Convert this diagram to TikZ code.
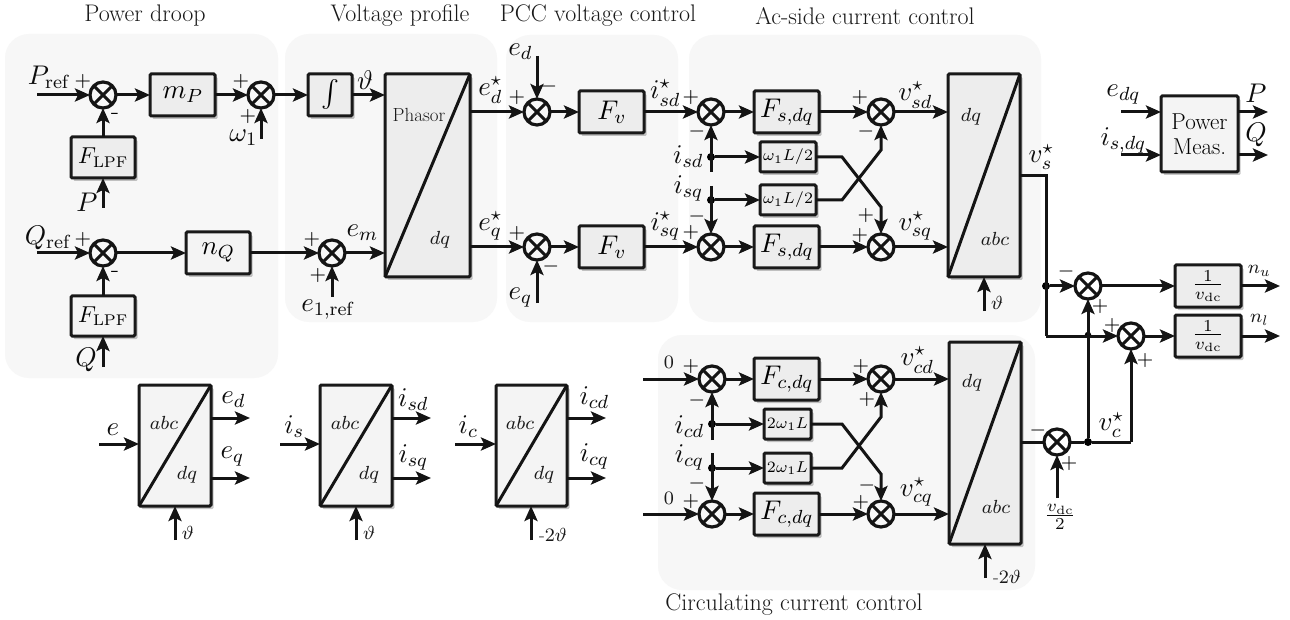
\documentclass[tikz,border=0pt]{standalone}
\DeclareFontShape{OML}{cmm}{m}{it}{<-13>cmmi5 <13-18>cmmi7 <18-22>cmmi8 <22->cmmi10}{}
\DeclareFontShape{OT1}{cmr}{m}{n}{<-13>cmr5 <13-18>cmr7 <18-22>cmr8 <22->cmr10}{}
\DeclareFontShape{OMS}{cmsy}{m}{n}{<-13>cmsy5 <13-18>cmsy7 <18-22>cmsy8 <22->cmsy10}{}
\DeclareFontShape{OMX}{cmex}{m}{n}{<->cmex10}{}
\DeclareMathSizes{27}{27}{19}{13.5}
\DeclareMathSizes{24}{24}{16.8}{12}
\DeclareMathSizes{23}{23}{15.5}{11}
\DeclareMathSizes{19}{19}{14}{11}
\DeclareMathSizes{20}{20}{14}{11}
\DeclareMathSizes{15.8}{15.8}{11.5}{9}
\usetikzlibrary{arrows.meta,shadows}
\tikzset{
  x=1pt,y=-1pt,
  bgpanel/.style={fill=panelgray,rounded corners=24pt},
  blk/.style={draw=black!90,line width=3pt,rounded corners=1.2pt,outer sep=0pt,inner sep=0pt,
     drop shadow={shadow xshift=2.5pt,shadow yshift=-3pt,fill=black,opacity=.22}},
  blkdark/.style={blk,fill=darkfill},
  blklight/.style={blk,fill=lightfill},
  wire/.style={draw=black!92,line width=3pt},
  arr/.style={wire,-{Stealth[length=15pt,width=13pt,inset=3pt]}},
  summ/.style={circle,draw=black!92,line width=3.2pt,minimum size=26pt,inner sep=0pt,outer sep=0pt,
     path picture={
       \draw[line width=3pt] ([shift={(45:13)}]path picture bounding box.center) -- ([shift={(225:13)}]path picture bounding box.center);
       \draw[line width=3pt] ([shift={(135:13)}]path picture bounding box.center) -- ([shift={(315:13)}]path picture bounding box.center);}},
  dotn/.style={circle,fill=black,inner sep=0pt,minimum size=8pt},
  hopn/.style={circle,fill=black,inner sep=0pt,minimum size=6.5pt},
  txt/.style={inner sep=0pt,font=\fontsize{27}{30}\selectfont,text=black!95},
  sgn/.style={inner sep=0pt,font=\fontsize{20}{24}\selectfont,text=black},
  ttl/.style={inner sep=0pt,font=\fontsize{24}{28}\selectfont,text=black!90},
  small/.style={inner sep=0pt,font=\fontsize{19}{22}\selectfont,text=black!90},
  blab/.style={font=\fontsize{27}{30}\selectfont},
  flab/.style={font=\fontsize{24}{28}\selectfont},
  llab/.style={font=\fontsize{23}{26}\selectfont},
  wlab/.style={font=\fontsize{15.8}{20}\selectfont},
}
\definecolor{panelgray}{HTML}{F7F7F7}
\definecolor{darkfill}{HTML}{EDEDED}
\definecolor{lightfill}{HTML}{F4F4F4}
\newcommand\bx[7]{\node[#6,minimum width={#4-#2},minimum height={#5-#3}] (#1) at ({(#2+#4)/2},{(#3+#5)/2}) {#7};}
\newcommand\lab[3]{\node[txt] (#1) at (#2) {#3};}
\newcommand\sg[3]{\node[sgn] (#1) at (#2) {#3};}
\newcommand\smalllab[3]{\node[small] (#1) at (#2) {#3};}
\begin{document}
\begin{tikzpicture}
\useasboundingbox (0,0) rectangle (1290,620);
\fill[white] (0,0) rectangle (1290,620);
% panels
\fill[bgpanel] (5,34) rectangle (278,378);
\fill[bgpanel] (285,34) rectangle (497,322);
\fill[bgpanel] (506,35) rectangle (678,322);
\fill[bgpanel] (689,35) rectangle (1041,322);
\fill[bgpanel] (658,335) rectangle (1035,590);
% titles
\node[ttl] (t1) at (145,16) {Power droop};
\node[ttl] (t2) at (400,16) {Voltage profile};
\node[ttl] (t3) at (598,16) {PCC voltage control};
\node[ttl] (t4) at (865,16) {Ac-side current control};
\node[ttl] (t5) at (794,605) {Circulating current control};
% blocks: power droop / voltage profile
\bx{mP}{150}{74}{215}{116}{blkdark,blab}{$m_P$}
\bx{Int}{308}{74}{352}{116}{blkdark,blab}{$\int$}
\bx{Fl1}{71}{137}{135}{178}{blkdark,llab}{$F_{\mathrm{LPF}}$}
\bx{Fl2}{71}{296}{135}{336}{blklight,llab}{$F_{\mathrm{LPF}}$}
\bx{nQ}{186}{232}{250}{274}{blklight,blab}{$n_Q$}
\bx{Ph}{385}{74}{470}{277}{blkdark}{}
\draw[wire] (Ph.north east) -- (Ph.south west);
\smalllab{phT}{419,115}{Phasor}
\smalllab{phB}{440,240}{$dq$}
% PCC and ac-side
\bx{Fv1}{579}{91}{644}{133}{blkdark,blab}{$F_v$}
\bx{Fv2}{579}{226}{644}{268}{blkdark,blab}{$F_v$}
\bx{Fs1}{754}{91}{819}{133}{blkdark,blab}{$F_{s,dq}$}
\bx{Fs2}{754}{226}{819}{268}{blkdark,blab}{$F_{s,dq}$}
\bx{wL1}{760}{142}{816}{172}{blkdark,wlab}{$\omega_1L/2$}
\bx{wL2}{760}{185}{816}{215}{blkdark,wlab}{$\omega_1L/2$}
\bx{Ac}{948}{74}{1020}{277}{blkdark}{}
\draw[wire] (Ac.north east) -- (Ac.south west);
\smalllab{acT}{971,117}{$dq$}
\smalllab{acB}{995,239}{$abc$}
% circulating
\bx{Fc1}{754}{358}{819}{400}{blkdark,blab}{$F_{c,dq}$}
\bx{Fc2}{754}{493}{819}{535}{blkdark,blab}{$F_{c,dq}$}
\bx{wC1}{764}{409}{811}{439}{blkdark,wlab}{$2\omega_1L$}
\bx{wC2}{764}{453}{811}{483}{blkdark,wlab}{$2\omega_1L$}
\bx{Cc}{949}{342}{1021}{544}{blkdark}{}
\draw[wire] (Cc.north east) -- (Cc.south west);
\smalllab{ccT}{972,383}{$dq$}
\smalllab{ccB}{996,507}{$abc$}
% output blocks
\bx{PM}{1161}{96}{1238}{172}{blklight}{\parbox{70pt}{\centering\fontsize{23}{25}\selectfont Power\\Meas.}}
\bx{Vu}{1175}{265}{1241}{307}{blkdark,flab}{$\frac{1}{v_{\mathrm{dc}}}$}
\bx{Vl}{1175}{315}{1241}{357}{blkdark,flab}{$\frac{1}{v_{\mathrm{dc}}}$}
% transforms
\bx{Ta}{139}{385}{211}{506}{blklight}{}
\bx{Tb}{320}{385}{392}{506}{blklight}{}
\bx{Tc}{496}{385}{567}{506}{blklight}{}
\draw[wire] (Ta.north east) -- (Ta.south west);
\draw[wire] (Tb.north east) -- (Tb.south west);
\draw[wire] (Tc.north east) -- (Tc.south west);
\smalllab{taT}{164,423}{$abc$}
\smalllab{taB}{187,475}{$dq$}
\smalllab{tbT}{345,423}{$abc$}
\smalllab{tbB}{369,475}{$dq$}
\smalllab{tcT}{520,423}{$abc$}
\smalllab{tcB}{544,475}{$dq$}
% sums
\node[summ] (S1) at (103,95) {};
\node[summ] (S2) at (261,95) {};
\node[summ] (S3) at (103,253) {};
\node[summ] (S4) at (332,253) {};
\node[summ] (S5) at (537,112) {};
\node[summ] (S6) at (537,247) {};
\node[summ] (S7) at (711,112) {};
\node[summ] (S8) at (711,247) {};
\node[summ] (S9) at (881,112) {};
\node[summ] (S10) at (881,247) {};
\node[summ] (S11) at (712,379) {};
\node[summ] (S12) at (712,514) {};
\node[summ] (S13) at (881,379) {};
\node[summ] (S14) at (881,514) {};
\node[summ] (S15) at (1057,442) {};
\node[summ] (Su) at (1088,286) {};
\node[summ] (Sl) at (1131,336) {};
% free ends
\coordinate (pP) at (37,95);
\coordinate (pQ) at (37,253);
\coordinate (pW) at (261,139);
\coordinate (pF1) at (103,208);
\coordinate (pF2) at (103,367);
\coordinate (pE1) at (332,297);
\coordinate (pEd) at (537,56);
\coordinate (pEq) at (537,303);
\coordinate (pI1) at (711,172);
\coordinate (pI2) at (711,186);
\coordinate (pTh) at (984,311);
\coordinate (pZ1) at (643,379);
\coordinate (pZ2) at (643,514);
\coordinate (pI3) at (712,440);
\coordinate (pI4) at (712,453);
\coordinate (pTc) at (985,578);
\coordinate (pVd) at (1057,498);
\coordinate (pEdq) at (1121,112);
\coordinate (pIdq) at (1121,155);
\coordinate (oP) at (1268,112);
\coordinate (oQ) at (1268,155);
\coordinate (oNu) at (1280,286);
\coordinate (oNl) at (1280,336);
\coordinate (k1) at (842,157);
\coordinate (k2) at (881,207);
\coordinate (k3) at (842,200);
\coordinate (k4) at (881,150);
\coordinate (k5) at (842,424);
\coordinate (k6) at (881,474);
\coordinate (k7) at (842,468);
\coordinate (k8) at (881,417);
\coordinate (vs1) at (1046,176);
\coordinate (vs2) at (1046,336);
\coordinate (vc1) at (1131,442);
\node[dotn] (J1) at (711,157) {};
\node[dotn] (J2) at (711,200) {};
\node[dotn] (J3) at (712,424) {};
\node[dotn] (J4) at (712,468) {};
\node[dotn] (J5) at (1046,286) {};
\node[dotn] (J6) at (1088,442) {};
\node[hopn] (J7) at (1088,335) {};
% transforms inputs/outputs
\coordinate (taI) at (99,444);
\coordinate (tbI) at (280,444);
\coordinate (tcI) at (455,444);
\coordinate (taO1) at (250,418);
\coordinate (taO2) at (250,478);
\coordinate (tbO1) at (431,418);
\coordinate (tbO2) at (431,478);
\coordinate (tcO1) at (606,418);
\coordinate (tcO2) at (606,478);
\coordinate (taV) at (175,540);
\coordinate (tbV) at (356,540);
\coordinate (tcV) at (531,540);
% connectors
\draw[arr] (pP) -- (S1);
\draw[arr] (S1) -- (mP);
\draw[arr] (mP) -- (S2);
\draw[arr] (S2) -- (Int);
\draw[arr] (Int.east) -- (Int.east -| Ph.west);
\draw[arr] (pW) -- (S2);
\draw[arr] (Fl1) -- (S1);
\draw[arr] (pF1) -- (Fl1);
\draw[arr] (pQ) -- (S3);
\draw[arr] (S3) -- (nQ);
\draw[arr] (nQ) -- (S4);
\draw[arr] (S4) -- (S4 -| Ph.west);
\draw[arr] (pE1) -- (S4);
\draw[arr] (Fl2) -- (S3);
\draw[arr] (pF2) -- (Fl2);
\draw[arr] (S5 -| Ph.east) -- (S5);
\draw[arr] (S6 -| Ph.east) -- (S6);
\draw[arr] (pEd) -- (S5);
\draw[arr] (pEq) -- (S6);
\draw[arr] (S5) -- (Fv1);
\draw[arr] (S6) -- (Fv2);
\draw[arr] (Fv1) -- (S7);
\draw[arr] (Fv2) -- (S8);
\draw[arr] (S7) -- (Fs1);
\draw[arr] (S8) -- (Fs2);
\draw[arr] (Fs1) -- (S9);
\draw[arr] (Fs2) -- (S10);
\draw[arr] (S9) -- (S9 -| Ac.west);
\draw[arr] (S10) -- (S10 -| Ac.west);
\draw[arr] (pI1) -- (S7);
\draw[arr] (pI2) -- (S8);
\draw[arr] (J1) -- (wL1);
\draw[arr] (J2) -- (wL2);
\draw[arr] (wL1) -- (k1) -- (k2) -- (S10);
\draw[arr] (wL2) -- (k3) -- (k4) -- (S9);
\draw[arr] (pTh) -- (pTh |- Ac.south);
\draw[arr] (pZ1) -- (S11);
\draw[arr] (pZ2) -- (S12);
\draw[arr] (S11) -- (Fc1);
\draw[arr] (S12) -- (Fc2);
\draw[arr] (Fc1) -- (S13);
\draw[arr] (Fc2) -- (S14);
\draw[arr] (S13) -- (S13 -| Cc.west);
\draw[arr] (S14) -- (S14 -| Cc.west);
\draw[arr] (pI3) -- (S11);
\draw[arr] (pI4) -- (S12);
\draw[arr] (J3) -- (wC1);
\draw[arr] (J4) -- (wC2);
\draw[arr] (wC1) -- (k5) -- (k6) -- (S14);
\draw[arr] (wC2) -- (k7) -- (k8) -- (S13);
\draw[arr] (pTc) -- (pTc |- Cc.south);
\draw[wire] (S15 -| Cc.east) -- (S15);
\draw[arr] (pVd) -- (S15);
\draw[wire] (S15) -- (J6);
\draw[arr] (J6) -- (Su);
\draw[wire,line join=miter] (J6) -- (vc1);
\draw[arr] (vc1) -- (Sl);
\draw[wire,line join=miter] (vs1 -| Ac.east) -- (vs1) -- (vs2);
\draw[arr] (J5) -- (Su);
\draw[arr] (vs2) -- (Sl);
\draw[arr] (Su) -- (Vu);
\draw[arr] (Sl) -- (Vl);
\draw[arr] (Vu) -- (oNu);
\draw[arr] (Vl) -- (oNl);
\draw[arr] (pEdq) -- (pEdq -| PM.west);
\draw[arr] (pIdq) -- (pIdq -| PM.west);
\draw[arr] (oP -| PM.east) -- (oP);
\draw[arr] (oQ -| PM.east) -- (oQ);
\draw[arr] (taI) -- (taI -| Ta.west);
\draw[arr] (tbI) -- (tbI -| Tb.west);
\draw[arr] (tcI) -- (tcI -| Tc.west);
\draw[arr] (taO1 -| Ta.east) -- (taO1);
\draw[arr] (taO2 -| Ta.east) -- (taO2);
\draw[arr] (tbO1 -| Tb.east) -- (tbO1);
\draw[arr] (tbO2 -| Tb.east) -- (tbO2);
\draw[arr] (tcO1 -| Tc.east) -- (tcO1);
\draw[arr] (tcO2 -| Tc.east) -- (tcO2);
\draw[arr] (taV) -- (taV |- Ta.south);
\draw[arr] (tbV) -- (tbV |- Tb.south);
\draw[arr] (tcV) -- (tcV |- Tc.south);
% signal labels
\lab{l1}{49,77}{$P_{\mathrm{ref}}$}
\lab{l2}{48,238}{$Q_{\mathrm{ref}}$}
\lab{l3}{243,138}{$\omega_1$}
\lab{l4}{87,202}{$P$}
\lab{l5}{86,360}{$Q$}
\lab{l6}{365,80}{$\vartheta$}
\lab{l7}{362,233}{$e_m$}
\lab{l8}{328,310}{$e_{1,\mathrm{ref}}$}
\lab{l9}{490,90}{$e_d^\star$}
\lab{l10}{490,226}{$e_q^\star$}
\lab{l11}{520,52}{$e_d$}
\lab{l12}{520,298}{$e_q$}
\lab{l13}{665,93}{$i_{sd}^\star$}
\lab{l14}{665,226}{$i_{sq}^\star$}
\lab{l15}{688,157}{$i_{sd}$}
\lab{l16}{688,188}{$i_{sq}$}
\lab{l17}{915,95}{$v_{sd}^\star$}
\lab{l18}{915,226}{$v_{sq}^\star$}
\lab{l19}{1041,157}{$v_s^\star$}
\smalllab{l20}{997,303}{$\vartheta$}
\smalllab{l21}{669,362}{$0$}
\smalllab{l22}{669,498}{$0$}
\lab{l23}{689,427}{$i_{cd}$}
\lab{l24}{689,457}{$i_{cq}$}
\lab{l25}{917,360}{$v_{cd}^\star$}
\lab{l26}{916,492}{$v_{cq}^\star$}
\smalllab{l27}{1007,577}{-$2\vartheta$}
\lab{l28}{1111,425}{$v_c^\star$}
\node[txt,flab] (l29) at (1060,517) {$\frac{v_{\mathrm{dc}}}{2}$};
\lab{l30}{1123,95}{$e_{dq}$}
\lab{l31}{1123,140}{$i_{s,dq}$}
\lab{l32}{1256,93}{$P$}
\lab{l33}{1256,135}{$Q$}
\smalllab{l34}{1259,271}{$n_u$}
\smalllab{l35}{1259,320}{$n_l$}
\lab{l36}{113,430}{$e$}
\lab{l37}{233,400}{$e_d$}
\lab{l38}{232,457}{$e_q$}
\smalllab{l39}{188,533}{$\vartheta$}
\lab{l40}{294,427}{$i_s$}
\lab{l41}{413,400}{$i_{sd}$}
\lab{l42}{413,457}{$i_{sq}$}
\smalllab{l43}{369,533}{$\vartheta$}
\lab{l44}{468,427}{$i_c$}
\lab{l45}{594,398}{$i_{cd}$}
\lab{l46}{594,456}{$i_{cq}$}
\smalllab{l47}{553,535}{-$2\vartheta$}
% signs
\sg{g1}{83,82}{$+$}
\node[sgn,font=\fontsize{26}{28}\selectfont] (g2) at (115,116) {-};
\sg{g3}{241,82}{$+$}
\sg{g4}{248,117}{$+$}
\sg{g5}{83,240}{$+$}
\node[sgn,font=\fontsize{26}{28}\selectfont] (g6) at (115,274) {-};
\sg{g7}{312,240}{$+$}
\sg{g8}{318,275}{$+$}
\sg{g9}{517,98}{$+$}
\sg{g10}{549,87}{$-$}
\sg{g11}{517,234}{$+$}
\sg{g12}{551,267}{$-$}
\sg{g13}{691,98}{$+$}
\sg{g14}{697,132}{$-$}
\sg{g15}{691,233}{$+$}
\sg{g16}{697,217}{$-$}
\sg{g17}{860,98}{$+$}
\sg{g18}{866,132}{$-$}
\sg{g19}{866,216}{$+$}
\sg{g20}{860,236}{$+$}
\sg{g21}{691,366}{$+$}
\sg{g22}{697,400}{$-$}
\sg{g23}{691,501}{$+$}
\sg{g24}{697,483}{$-$}
\sg{g25}{861,366}{$+$}
\sg{g26}{867,399}{$+$}
\sg{g27}{867,485}{$-$}
\sg{g28}{861,502}{$+$}
\sg{g29}{1038,430}{$-$}
\sg{g30}{1069,463}{$+$}
\sg{g31}{1066,272}{$-$}
\sg{g32}{1100,307}{$+$}
\sg{g33}{1112,325}{$+$}
\sg{g34}{1145,360}{$+$}
\end{tikzpicture}
\end{document}
